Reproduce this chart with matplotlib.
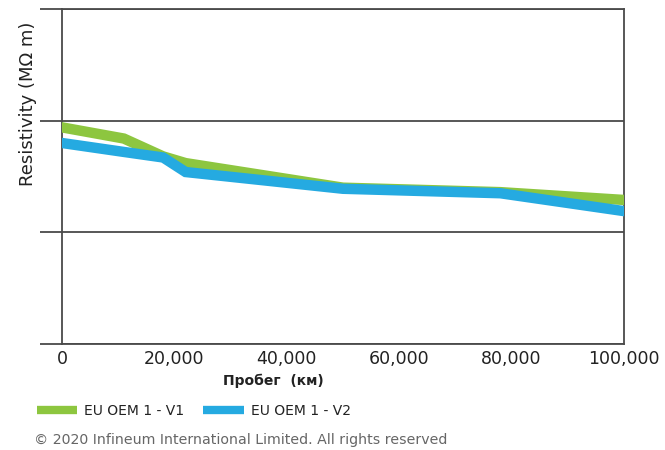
import matplotlib.pyplot as plt
from matplotlib.ticker import FuncFormatter

# пробег, км
mileage = [0, 11000, 18000, 22000, 50000, 78000, 100000]
v1 = [1.94, 1.84, 1.68, 1.62, 1.40, 1.36, 1.29]
v2 = [1.80, 1.72, 1.67, 1.54, 1.39, 1.35, 1.19]
xticks = [0, 20000, 40000, 60000, 80000, 100000]
yticks = [0, 1, 2, 3]

green = '#8dc63f'
blue = '#25aae1'
axcol = '#4a4a4a'
txt = '#222222'

plt.rcParams['font.family'] = ['DejaVu Sans']

fig = plt.figure(figsize=(6.65, 4.5), dpi=100)
ax = fig.add_axes([62 / 665, 1 - 344 / 450, (624 - 62) / 665, (344 - 9) / 450])

ax.plot(mileage, v1, color=green, lw=7.5, solid_joinstyle='miter', label='EU OEM 1 - V1', zorder=3)
ax.plot(mileage, v2, color=blue, lw=7.5, solid_joinstyle='miter', label='EU OEM 1 - V2', zorder=4)

ax.set_xlim(0, 100000)
ax.set_ylim(0, 3)
ax.set_xticks(xticks)
ax.xaxis.set_major_formatter(FuncFormatter(lambda v, p: '{:,.0f}'.format(v)))
ax.set_yticks(yticks)
ax.set_yticklabels([])
ax.grid(axis='y', color=axcol, lw=1.3)
ax.tick_params(axis='y', length=16, width=1.3, color=axcol)
ax.tick_params(axis='x', length=0, pad=4, labelsize=12.5, labelcolor=txt)
for s in ['left', 'right', 'bottom', 'top']:
    ax.spines[s].set_color(axcol)
    ax.spines[s].set_linewidth(1.3)

fig.text(273 / 665, 1 - 381 / 450, 'Пробег  (км)', fontsize=10, fontweight='bold', color=txt,
         ha='center', va='center')
fig.text(28 / 665, 1 - 104 / 450, 'Resistivity (MΩ m)', rotation=90, fontsize=13,
         color=txt, ha='center', va='center')

leg = fig.legend(loc='center left', bbox_to_anchor=(24 / 665, 1 - 411 / 450), ncol=2, frameon=False,
                 fontsize=10, handlelength=2.9, handletextpad=0.5, columnspacing=1.4,
                 labelcolor=txt)
for h in leg.legend_handles:
    h.set_linewidth(6)
    h.set_solid_capstyle('butt')
fig.text(34 / 665, 1 - 440 / 450, '© 2020 Infineum International Limited. All rights reserved',
         fontsize=10.2, color='#666666', ha='left', va='center')

fig.savefig('out.png', dpi=100)
